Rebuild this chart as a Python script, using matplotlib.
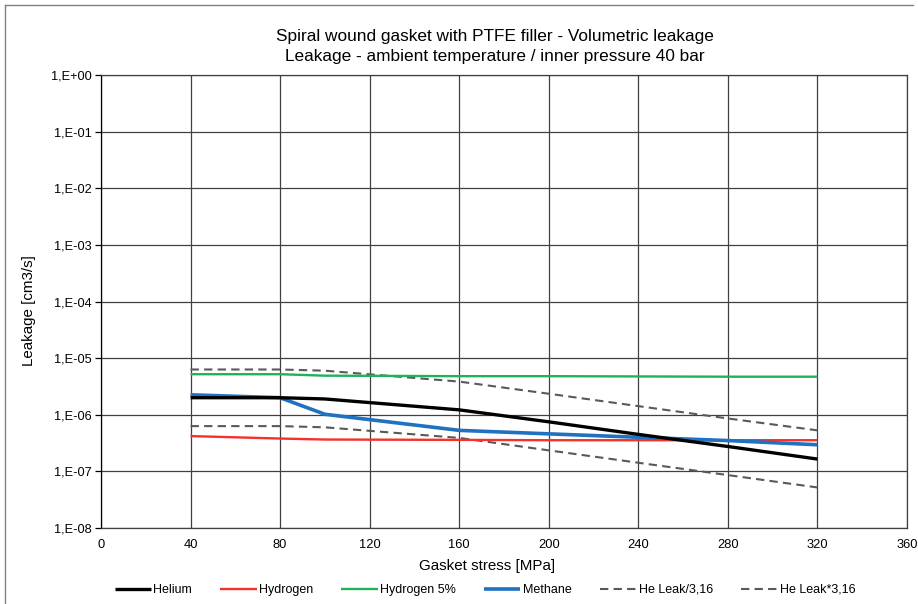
import matplotlib
matplotlib.use("Agg")
import matplotlib.pyplot as plt
from matplotlib.lines import Line2D
from matplotlib.ticker import FixedLocator, FixedFormatter

plt.rcParams['font.family'] = ['Liberation Sans', 'DejaVu Sans']

title = "Spiral wound gasket with PTFE filler - Volumetric leakage\nLeakage - ambient temperature / inner pressure 40 bar"
xlabel = "Gasket stress [MPa]"
ylabel = "Leakage [cm3/s]"

x_ticks = [0, 40, 80, 120, 160, 200, 240, 280, 320, 360]
y_ticks = [1e-8, 1e-7, 1e-6, 1e-5, 1e-4, 1e-3, 1e-2, 1e-1, 1e0]
y_tick_labels = ["1,E-08", "1,E-07", "1,E-06", "1,E-05", "1,E-04", "1,E-03", "1,E-02", "1,E-01", "1,E+00"]

stress = [40, 80, 100, 160, 200, 240, 280, 320]
helium = [2.0e-6, 2.0e-6, 1.9e-6, 1.22e-6, 7.5e-7, 4.5e-7, 2.75e-7, 1.65e-7]
hydrogen = [4.2e-7, 3.8e-7, 3.65e-7, 3.6e-7, 3.55e-7, 3.55e-7, 3.55e-7, 3.55e-7]
hydrogen5 = [5.2e-6, 5.2e-6, 4.9e-6, 4.8e-6, 4.8e-6, 4.75e-6, 4.7e-6, 4.7e-6]

stress_ch4 = [40, 80, 100, 120, 160, 200, 240, 280, 320]
methane = [2.25e-6, 2.0e-6, 1.02e-6, 8.2e-7, 5.3e-7, 4.6e-7, 4.0e-7, 3.5e-7, 2.95e-7]

he_div = [6.3e-7, 6.3e-7, 6.0e-7, 3.9e-7, 2.35e-7, 1.42e-7, 8.6e-8, 5.2e-8]
he_mul = [6.3e-6, 6.3e-6, 6.0e-6, 3.85e-6, 2.35e-6, 1.42e-6, 8.6e-7, 5.3e-7]

series_names = ["Helium", "Hydrogen", "Hydrogen 5%", "Methane", "He Leak/3,16", "He Leak*3,16"]

fig = plt.figure(figsize=(9.18, 6.04), dpi=100)
ax = fig.add_axes([101/918, 1-528/604, (907-101)/918, (528-75)/604])

ax.set_yscale('log')
ax.set_xlim(0, 360)
ax.set_ylim(1e-8, 1)

grid_c = '#404040'
ax.xaxis.set_major_locator(FixedLocator(x_ticks))
ax.yaxis.set_major_locator(FixedLocator(y_ticks))
ax.yaxis.set_major_formatter(FixedFormatter(y_tick_labels))
ax.yaxis.set_minor_locator(FixedLocator([]))
ax.grid(True, which='major', color=grid_c, linewidth=0.9)
ax.set_axisbelow(True)
for s in ax.spines.values():
    s.set_color(grid_c)
    s.set_linewidth(0.9)
ax.spines['left'].set_color('#000000')
ax.tick_params(axis='y', which='major', length=4, width=0.9, color='#000000', labelsize=9.2, pad=3)
ax.tick_params(axis='x', which='major', length=0, labelsize=9.3, pad=8)

dash_c = '#595959'
l1, = ax.plot(stress, helium, color='#000000', lw=2.4, solid_capstyle='butt', zorder=5)
l2, = ax.plot(stress, hydrogen, color='#F5312A', lw=1.7, solid_capstyle='butt', zorder=3)
l3, = ax.plot(stress, hydrogen5, color='#1EB25A', lw=1.7, solid_capstyle='butt', zorder=3)
l4, = ax.plot(stress_ch4, methane, color='#2171C1', lw=2.6, solid_capstyle='butt', zorder=4)
l5, = ax.plot(stress, he_div, color=dash_c, lw=1.5, dashes=(4, 2.5), zorder=2)
l6, = ax.plot(stress, he_mul, color=dash_c, lw=1.5, dashes=(4, 2.5), zorder=2)

fig.text(495/918, 1-37/604, title.split("\n")[0], ha='center', va='center', fontsize=12.4)
fig.text(495/918, 1-57/604, title.split("\n")[1], ha='center', va='center', fontsize=12.4)

fig.text(487/918, 1-566/604, xlabel, ha='center', va='center', fontsize=10.9)
fig.text(29/918, 1-311/604, ylabel, ha='center', va='center', rotation=90, fontsize=10.9)

leg = fig.legend([l1, l2, l3, l4, l5, l6], series_names, loc='center', bbox_to_anchor=(485/918, 1-590/604),
                 ncol=6, frameon=False, fontsize=9, handlelength=2.9, handletextpad=0.2,
                 columnspacing=2.25, borderaxespad=0)

# outer chart border
fig.add_artist(Line2D([5/918, 913/918], [1-5/604, 1-5/604], color='#808080', lw=1.0))
fig.add_artist(Line2D([5/918, 5/918], [0, 1-5/604], color='#808080', lw=1.0))

fig.savefig("out.png", dpi=100)
